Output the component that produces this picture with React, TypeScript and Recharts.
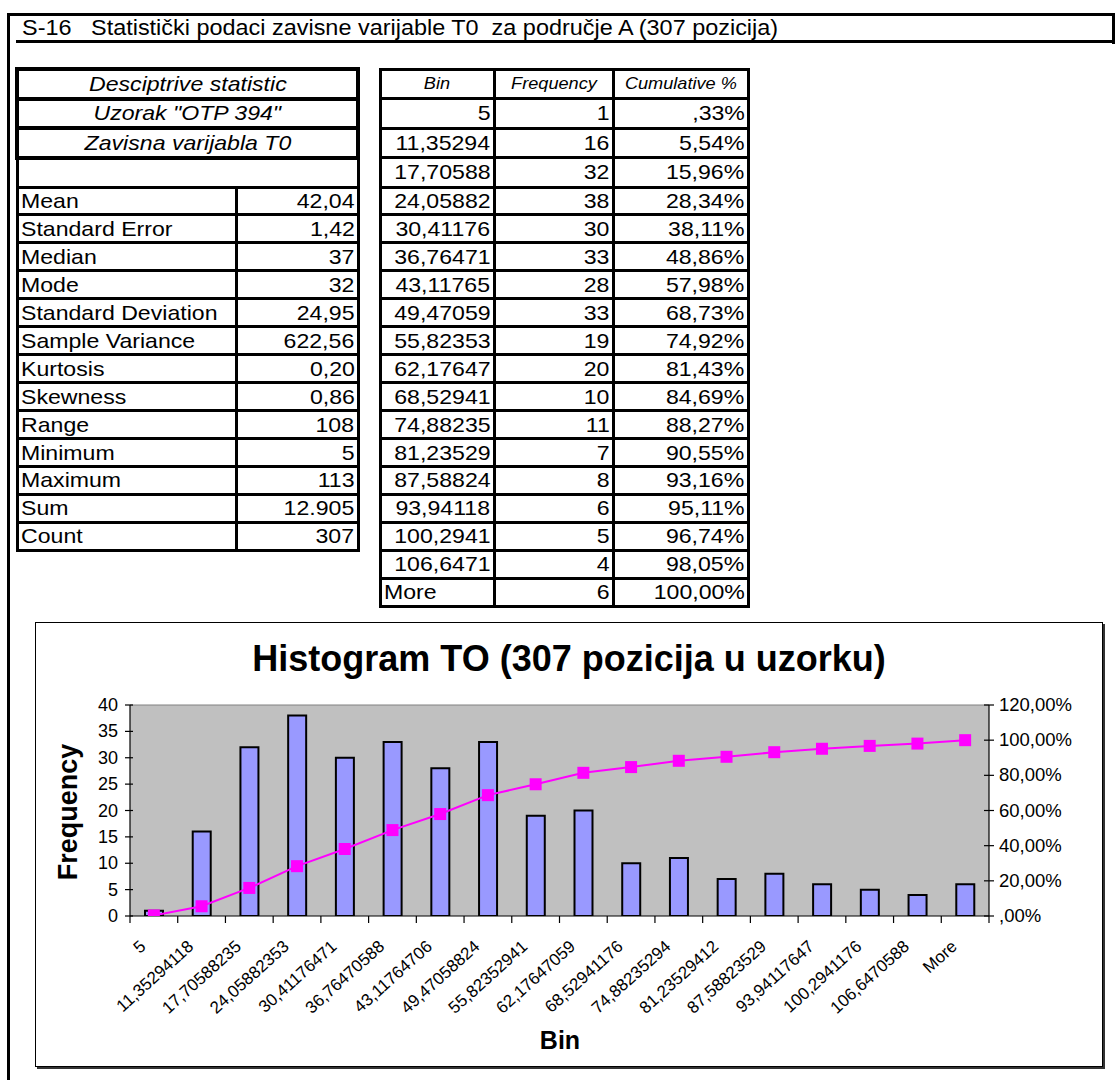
import React from 'react';
import { ComposedChart, Bar, Line, XAxis, YAxis, CartesianGrid, ReferenceLine } from 'recharts';

// ---------- data ----------
const pageTitle = 'S-16   Statistički podaci zavisne varijable T0  za područje A (307 pozicija)';
const chartTitle = 'Histogram TO (307 pozicija u uzorku)';
const statHeaders = ['Desciptrive statistic', 'Uzorak "OTP 394"', 'Zavisna varijabla T0'];
const statLabels = ['Mean', 'Standard Error', 'Median', 'Mode', 'Standard Deviation', 'Sample Variance', 'Kurtosis', 'Skewness', 'Range', 'Minimum', 'Maximum', 'Sum', 'Count'];
const statValues = ['42,04', '1,42', '37', '32', '24,95', '622,56', '0,20', '0,86', '108', '5', '113', '12.905', '307'];
const freqHeaders = ['Bin', 'Frequency', 'Cumulative %'];
const binTable = ['5', '11,35294', '17,70588', '24,05882', '30,41176', '36,76471', '43,11765', '49,47059', '55,82353', '62,17647', '68,52941', '74,88235', '81,23529', '87,58824', '93,94118', '100,2941', '106,6471', 'More'];
const binAxis = ['5', '11,35294118', '17,70588235', '24,05882353', '30,41176471', '36,76470588', '43,11764706', '49,47058824', '55,82352941', '62,17647059', '68,52941176', '74,88235294', '81,23529412', '87,58823529', '93,94117647', '100,2941176', '106,6470588', 'More'];
const frequencies = [1, 16, 32, 38, 30, 33, 28, 33, 19, 20, 10, 11, 7, 8, 6, 5, 4, 6];
const cumulativePct = [0.33, 5.54, 15.96, 28.34, 38.11, 48.86, 57.98, 68.73, 74.92, 81.43, 84.69, 88.27, 90.55, 93.16, 95.11, 96.74, 98.05, 100];
const leftTicks = [0, 5, 10, 15, 20, 25, 30, 35, 40];
const rightTicks = [0, 20, 40, 60, 80, 100, 120];

const pct = (v: number) => {
  let s = v.toFixed(2).replace('.', ',');
  if (s.startsWith('0,')) s = s.slice(1);
  return s + '%';
};

const chartData = binAxis.map((label, i) => ({ label, freq: frequencies[i], cum: cumulativePct[i] }));

// ---------- layout ----------
const FONT = '"Liberation Sans", Arial, Helvetica, sans-serif';
const SX = 1.1; // horizontal stretch of the reference text
const rowTop = (r: number) => (r <= 4 ? 69 + r * 29.5 : 187 + (r - 4) * 27.95);
const LX = [17, 236, 358];
const RX = [380, 494, 613, 748];

const CH_L = 35, CH_T = 622, CH_W = 1068, CH_H = 445;
const PLOT_L = 95, PLOT_R = 954, PLOT_T = 83, PLOT_B = 294;
const BW = (PLOT_R - PLOT_L) / binAxis.length;

const Stretch = ({ children, origin }: { children: React.ReactNode; origin: string }) => (
  <span style={{ display: 'inline-block', transform: `scaleX(${SX})`, transformOrigin: origin }}>{children}</span>
);

type CellProps = { x0: number; x1: number; row: number; text?: string; align?: 'left' | 'right' | 'center'; italic?: boolean; bw?: number; size?: number };
const Cell = ({ x0, x1, row, text, align = 'left', italic, bw = 3, size = 21 }: CellProps) => {
  const top = rowTop(row);
  const h = rowTop(row + 1) - top;
  const origin = align === 'left' ? 'left center' : align === 'right' ? 'right center' : 'center center';
  return (
    <div
      style={{
        position: 'absolute',
        left: x0 - bw / 2,
        top: top - bw / 2,
        width: x1 - x0 + bw,
        height: h + bw,
        boxSizing: 'border-box',
        border: `${bw}px solid #000`,
        display: 'flex',
        alignItems: 'center',
        justifyContent: align === 'left' ? 'flex-start' : align === 'right' ? 'flex-end' : 'center',
        padding: '0 2px',
        fontFamily: FONT,
        fontSize: size,
        fontStyle: italic ? 'italic' : 'normal',
        color: '#000',
        whiteSpace: 'nowrap',
      }}
    >
      {text ? <Stretch origin={origin}>{text}</Stretch> : null}
    </div>
  );
};

const SquareDot = (p: any) => (
  <rect key={`d${p.index}`} x={p.cx - 6} y={p.cy - 6} width={12} height={12} fill="#FF00FF" stroke="none" />
);

const XTick = (p: any) => {
  const { x, payload, index } = p;
  const half = BW / 2;
  const ax = x - 7;
  const ay = PLOT_B + 32;
  return (
    <g>
      <line x1={x - half} x2={x - half} y1={PLOT_B} y2={PLOT_B + 7} stroke="#000" strokeWidth={1.2} />
      {index === binAxis.length - 1 && (
        <line x1={x + half} x2={x + half} y1={PLOT_B} y2={PLOT_B + 7} stroke="#000" strokeWidth={1.2} />
      )}
      <text x={ax} y={ay} transform={`rotate(-42, ${ax}, ${ay})`} textAnchor="end" fontSize={17} fontFamily={FONT} fill="#000">
        {payload.value}
      </text>
    </g>
  );
};

const LeftTick = (p: any) => (
  <g>
    <line x1={PLOT_L - 5} x2={PLOT_L + 3} y1={p.y} y2={p.y} stroke="#000" strokeWidth={1.2} />
    <text x={PLOT_L - 12} y={p.y} dy={6} textAnchor="end" fontSize={18} fontFamily={FONT} fill="#000">
      {p.payload.value}
    </text>
  </g>
);

const RightTick = (p: any) => (
  <g>
    <line x1={PLOT_R - 5} x2={PLOT_R + 5} y1={p.y} y2={p.y} stroke="#000" strokeWidth={1.2} />
    <text x={PLOT_R + 10} y={p.y} dy={6} textAnchor="start" fontSize={18.5} fontFamily={FONT} fill="#000">
      {pct(p.payload.value)}
    </text>
  </g>
);

const Rule = ({ l, t, w, h }: { l: number; t: number; w: number; h: number }) => (
  <div style={{ position: 'absolute', left: l, top: t, width: w, height: h, background: '#000' }} />
);

export default function App() {
  return (
    <div style={{ position: 'absolute', left: 0, top: 0, width: 1115, height: 1080, background: '#fff', overflow: 'hidden', fontFamily: FONT }}>
      {/* frame */}
      <Rule l={7} t={13} w={1108} h={3} />
      <Rule l={7} t={13} w={3} h={1067} />
      <Rule l={1112} t={13} w={3} h={31} />
      <Rule l={16} t={40} w={1099} h={3} />
      <div style={{ position: 'absolute', left: 22, top: 16, fontSize: 21.3, lineHeight: '25px', whiteSpace: 'pre', color: '#000' }}>
        <Stretch origin="left center">{pageTitle}</Stretch>
      </div>

      {/* descriptive statistics table */}
      {statHeaders.map((h, i) => (
        <Cell key={`sh${i}`} x0={LX[0]} x1={LX[2]} row={i} text={h} align="center" italic bw={4} />
      ))}
      <Cell x0={LX[0]} x1={LX[2]} row={3} text="" />
      {statLabels.map((s, i) => (
        <React.Fragment key={`sl${i}`}>
          <Cell x0={LX[0]} x1={LX[1]} row={4 + i} text={s} align="left" />
          <Cell x0={LX[1]} x1={LX[2]} row={4 + i} text={statValues[i]} align="right" />
        </React.Fragment>
      ))}

      {/* frequency table */}
      {freqHeaders.map((h, i) => (
        <Cell key={`fh${i}`} x0={RX[i]} x1={RX[i + 1]} row={0} text={h} align="center" italic size={16.5} />
      ))}
      {binTable.map((b, i) => (
        <React.Fragment key={`fr${i}`}>
          <Cell x0={RX[0]} x1={RX[1]} row={1 + i} text={b} align={b === 'More' ? 'left' : 'right'} />
          <Cell x0={RX[1]} x1={RX[2]} row={1 + i} text={String(frequencies[i])} align="right" />
          <Cell x0={RX[2]} x1={RX[3]} row={1 + i} text={pct(cumulativePct[i])} align="right" />
        </React.Fragment>
      ))}

      {/* chart frame */}
      <div style={{ position: 'absolute', left: CH_L, top: CH_T, width: CH_W, height: CH_H, border: '1px solid #000', boxShadow: '2px 2px 0 #333', boxSizing: 'border-box' }} />
      <div style={{ position: 'absolute', left: CH_L, top: CH_T + 16, width: CH_W, textAlign: 'center', fontSize: 36, fontWeight: 'bold', lineHeight: '42px', color: '#000' }}>
        {chartTitle}
      </div>
      <div style={{ position: 'absolute', left: 68, top: 812, transform: 'translate(-50%, -50%) rotate(-90deg)', fontSize: 27, fontWeight: 'bold', whiteSpace: 'nowrap', color: '#000' }}>
        Frequency
      </div>
      <div style={{ position: 'absolute', left: 560, top: 1040, transform: 'translate(-50%, -50%)', fontSize: 25, fontWeight: 'bold', whiteSpace: 'nowrap', color: '#000' }}>
        Bin
      </div>

      <div style={{ position: 'absolute', left: CH_L, top: CH_T }}>
        <ComposedChart width={CH_W} height={CH_H} data={chartData} margin={{ top: PLOT_T, right: 0, bottom: 0, left: 0 }} barCategoryGap={0}>
          <CartesianGrid fill="#C0C0C0" stroke="none" horizontal={false} vertical={false} />
          <XAxis dataKey="label" interval={0} tick={XTick} tickLine={false} axisLine={{ stroke: '#000', strokeWidth: 1.2 }} height={CH_H - PLOT_B} />
          <YAxis yAxisId="left" orientation="left" width={PLOT_L} domain={[0, 40]} ticks={leftTicks} tick={LeftTick} tickLine={false} axisLine={{ stroke: '#000', strokeWidth: 1.2 }} allowDataOverflow />
          <YAxis yAxisId="right" orientation="right" width={CH_W - PLOT_R} domain={[0, 120]} ticks={rightTicks} tick={RightTick} tickLine={false} axisLine={{ stroke: '#000', strokeWidth: 1.2 }} allowDataOverflow />
          <ReferenceLine yAxisId="left" y={40} stroke="#808080" strokeWidth={1} />
          <Bar yAxisId="left" dataKey="freq" fill="#9999FF" stroke="#000" strokeWidth={2} barSize={18} isAnimationActive={false} />
          <Line yAxisId="right" dataKey="cum" type="linear" stroke="#FF00FF" strokeWidth={2} dot={SquareDot} activeDot={false} isAnimationActive={false} />
        </ComposedChart>
      </div>
    </div>
  );
}
